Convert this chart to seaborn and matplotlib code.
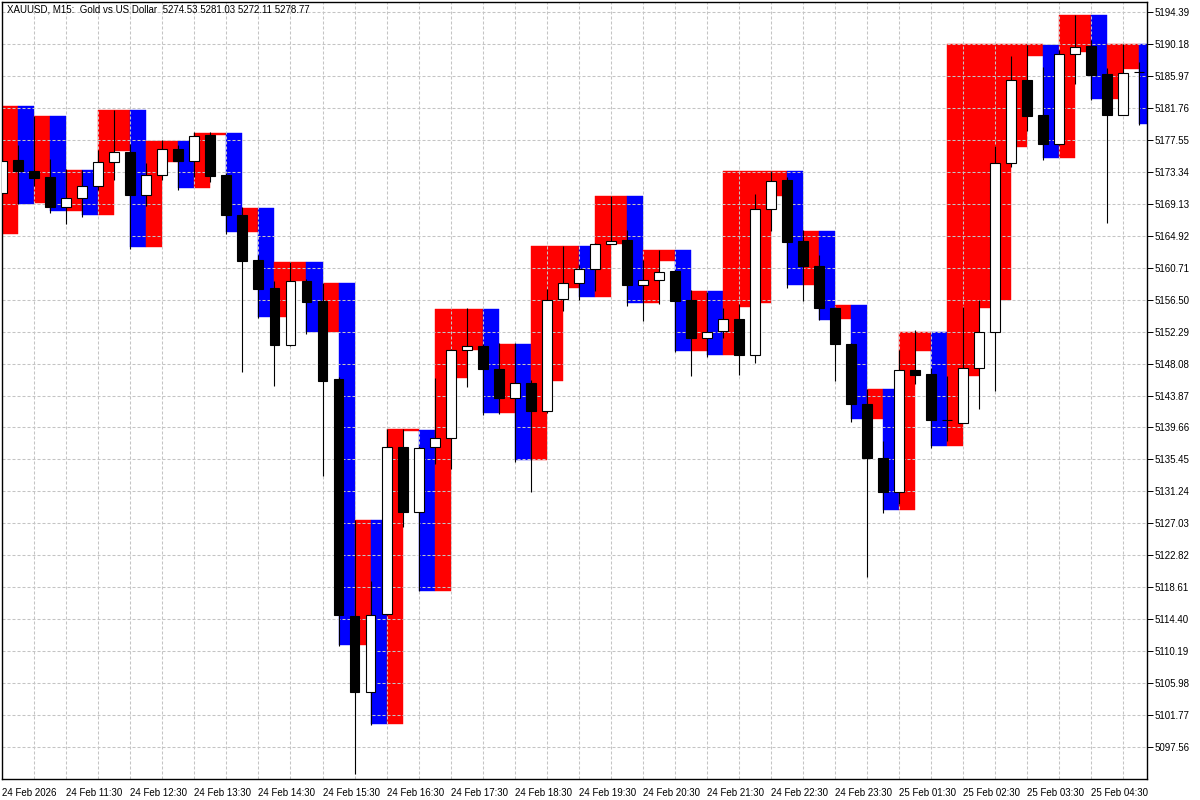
#!/usr/bin/env python3
"""
XAUUSD M15 candles over red/blue range boxes, drawn the way the MT5 terminal shows them.

Output:
    out.png
"""

import matplotlib
matplotlib.use("Agg")
import matplotlib.pyplot as plt
import numpy as np
import pandas as pd
import seaborn as sns

TITLE = "XAUUSD, M15:  Gold vs US Dollar  5274.53 5281.03 5272.11 5278.77"

# candle values, one entry per M15 bar
OPEN = [
    5170.57, 5174.83, 5173.47, 5172.59, 5168.73, 5169.92, 5171.50, 5174.65,
    5175.97, 5170.31, 5172.94, 5176.36, 5174.73, 5178.11, 5172.85, 5167.65,
    5161.67, 5157.99, 5150.57, 5158.99, 5156.27, 5146.00, 5114.91, 5104.85,
    5115.16, 5137.09, 5128.53, 5137.12, 5138.33, 5149.91, 5150.39, 5147.41,
    5143.60, 5145.57, 5141.83, 5156.63, 5158.74, 5160.57, 5163.86, 5164.30,
    5158.47, 5159.13, 5160.21, 5156.40, 5151.49, 5152.32, 5153.99, 5149.25,
    5168.47, 5172.19, 5164.17, 5160.97, 5155.35, 5150.70, 5142.81, 5135.71,
    5131.17, 5147.28, 5146.66, 5140.70, 5140.25, 5147.49, 5152.23, 5174.52,
    5185.44, 5180.75, 5177.02, 5188.87, 5189.83, 5186.14, 5180.84, 5186.45,
]
HIGH = [
    5175.00, 5176.89, 5180.62, 5175.05, 5173.73, 5173.51, 5176.14, 5181.50,
    5177.02, 5174.52, 5177.46, 5176.89, 5178.55, 5178.55, 5173.11, 5168.64,
    5162.35, 5158.99, 5161.47, 5159.24, 5158.74, 5146.30, 5127.54, 5119.51,
    5139.43, 5139.43, 5137.20, 5146.23, 5150.00, 5155.44, 5150.60, 5150.83,
    5150.83, 5145.87, 5157.94, 5163.51, 5161.00, 5164.00, 5170.19, 5165.61,
    5161.66, 5162.98, 5160.40, 5157.72, 5157.50, 5155.39, 5155.97, 5170.35,
    5173.38, 5172.60, 5165.61, 5162.35, 5155.50, 5150.80, 5144.78, 5137.85,
    5149.82, 5152.45, 5147.50, 5146.49, 5155.52, 5156.41, 5176.71, 5188.51,
    5190.05, 5187.12, 5189.40, 5194.00, 5190.71, 5186.97, 5190.18, 5187.76,
]
LOW = [
    5170.30, 5169.13, 5171.44, 5167.94, 5166.40, 5167.36, 5170.88, 5172.19,
    5163.20, 5168.81, 5172.19, 5170.88, 5172.63, 5171.97, 5165.18, 5146.95,
    5154.03, 5145.12, 5150.45, 5151.95, 5133.24, 5110.95, 5094.10, 5100.55,
    5115.00, 5126.54, 5118.13, 5134.91, 5134.25, 5144.99, 5141.36, 5141.49,
    5135.12, 5131.17, 5141.60, 5154.99, 5156.49, 5157.62, 5163.80, 5155.65,
    5153.68, 5155.87, 5149.60, 5146.40, 5148.94, 5151.44, 5146.53, 5148.15,
    5165.48, 5158.02, 5156.31, 5153.86, 5145.78, 5140.39, 5120.01, 5128.41,
    5129.65, 5145.44, 5137.02, 5137.85, 5140.20, 5142.06, 5144.46, 5173.94,
    5178.68, 5174.92, 5176.90, 5184.92, 5182.72, 5166.63, 5180.80, 5179.52,
]
CLOSE = [
    5174.73, 5173.42, 5172.50, 5168.68, 5169.92, 5171.50, 5174.65, 5175.97,
    5170.31, 5172.94, 5176.36, 5174.73, 5178.02, 5172.76, 5167.59, 5161.56,
    5157.90, 5150.57, 5158.99, 5156.16, 5145.77, 5115.01, 5104.85, 5115.01,
    5137.09, 5128.53, 5136.99, 5138.33, 5149.91, 5150.39, 5147.41, 5143.60,
    5145.57, 5141.83, 5156.49, 5158.74, 5160.57, 5163.86, 5164.26, 5158.47,
    5159.13, 5160.12, 5156.31, 5151.44, 5152.23, 5153.99, 5149.25, 5168.47,
    5172.10, 5164.07, 5160.92, 5155.39, 5150.70, 5142.72, 5135.65, 5131.17,
    5147.28, 5146.62, 5140.70, 5140.70, 5147.49, 5152.23, 5174.52, 5185.44,
    5180.65, 5177.02, 5188.87, 5189.74, 5186.10, 5180.84, 5186.37, 5186.40,
]

# indicator boxes: each one runs from its bar to the next bar
BOX_TOP = [
    5181.93, 5181.93, 5180.62, 5180.62, 5173.51, 5173.51, 5181.40, 5181.40,
    5181.40, 5177.33, 5177.33, 5177.33, 5178.47, 5178.47, 5178.47, 5168.51,
    5168.51, 5161.47, 5161.47, 5161.47, 5158.74, 5158.74, 5127.54, 5127.54,
    5139.43, 5139.43, 5139.30, 5155.31, 5155.31, 5155.31, 5155.31, 5150.70,
    5150.70, 5163.51, 5163.51, 5163.51, 5163.51, 5170.13, 5170.13, 5170.13,
    5162.98, 5162.98, 5162.98, 5157.59, 5157.59, 5173.38, 5173.38, 5173.38,
    5173.38, 5173.38, 5165.48, 5165.48, 5155.74, 5155.74, 5144.69, 5144.69,
    5152.23, 5152.23, 5152.23, 5190.18, 5190.18, 5190.18, 5190.18, 5190.18,
    5190.18, 5190.05, 5193.99, 5193.99, 5193.99, 5190.18, 5190.18, 5190.18,
]
BOX_BOTTOM = [
    5165.18, 5169.13, 5169.20, 5168.15, 5168.15, 5167.63, 5167.63, 5176.01,
    5163.41, 5163.41, 5174.60, 5171.18, 5171.18, 5178.10, 5165.39, 5165.43,
    5154.14, 5154.14, 5158.99, 5152.25, 5152.25, 5111.09, 5111.09, 5100.64,
    5100.64, 5139.15, 5118.13, 5118.13, 5146.18, 5149.90, 5141.57, 5141.57,
    5135.44, 5135.44, 5145.74, 5158.02, 5156.83, 5156.83, 5163.86, 5156.05,
    5156.05, 5161.57, 5149.69, 5149.69, 5149.16, 5149.16, 5155.52, 5156.05,
    5170.13, 5158.37, 5158.37, 5153.86, 5153.90, 5140.78, 5140.78, 5128.76,
    5128.76, 5149.69, 5137.23, 5137.23, 5146.44, 5155.39, 5156.41, 5176.57,
    5188.51, 5175.13, 5175.13, 5189.15, 5182.94, 5182.94, 5186.89, 5179.56,
]
BOX_SIDE = [
    "r", "b", "r", "b", "r", "b", "r", "r", "b", "r", "r", "b",
    "r", "r", "b", "r", "b", "r", "r", "b", "r", "b", "r", "b",
    "r", "r", "b", "r", "r", "r", "b", "r", "b", "r", "r", "r",
    "b", "r", "r", "b", "r", "r", "b", "r", "b", "r", "r", "r",
    "r", "b", "r", "b", "r", "b", "r", "b", "r", "r", "b", "r",
    "r", "r", "r", "r", "r", "b", "r", "r", "b", "r", "r", "b",
]

PRICE_TICKS = [
    5194.39, 5190.18, 5185.97, 5181.76, 5177.55, 5173.34, 5169.13, 5164.92,
    5160.71, 5156.50, 5152.29, 5148.08, 5143.87, 5139.66, 5135.45, 5131.24,
    5127.03, 5122.82, 5118.61, 5114.40, 5110.19, 5105.98, 5101.77, 5097.56,
]

TIME_TICK_BARS = [0, 4, 8, 12, 16, 20, 24, 28, 32, 36, 40, 44, 48, 52, 56, 60, 64, 68]
TIME_LABELS = [
    "24 Feb 2026", "24 Feb 11:30", "24 Feb 12:30", "24 Feb 13:30", "24 Feb 14:30",
    "24 Feb 15:30", "24 Feb 16:30", "24 Feb 17:30", "24 Feb 18:30", "24 Feb 19:30",
    "24 Feb 20:30", "24 Feb 21:30", "24 Feb 22:30", "24 Feb 23:30", "25 Feb 01:30",
    "25 Feb 02:30", "25 Feb 03:30", "25 Feb 04:30",
]

SIDE_COLORS = {"r": "#FF0000", "b": "#0000FF"}
GRID_COLOR = "#C4C4C4"
GRID_DASH = (0, (2.9, 1.9))
FONT_SIZE = 7


def build_frame():
    df = pd.DataFrame({
        "open": OPEN, "high": HIGH, "low": LOW, "close": CLOSE,
        "box_top": BOX_TOP, "box_bottom": BOX_BOTTOM, "box_side": BOX_SIDE,
    })
    df["bar"] = np.arange(len(df))
    df["up"] = df["close"] >= df["open"]
    return df


def draw_chart(df):
    sns.set_theme(style="white")
    plt.rcParams["font.family"] = ["Liberation Sans", "DejaVu Sans"]

    fig = plt.figure(figsize=(12, 8), dpi=100)
    # plot area in pixels: x 2.3..1146.7, y 2..779.3 (from top)
    ax = fig.add_axes([2.3 / 1200, 20.7 / 800, 1144.4 / 1200, 777.3 / 800])

    # range boxes behind everything
    box_colors = [SIDE_COLORS[s] for s in df["box_side"]]
    ax.bar(df["bar"], df["box_top"] - df["box_bottom"], bottom=df["box_bottom"],
           width=1.0, align="edge", color=box_colors, edgecolor=box_colors,
           linewidth=0.3, zorder=0.3)

    # wicks and bodies
    ax.vlines(df["bar"], df["low"], df["high"], color="black", linewidth=0.8, zorder=2)
    body_low = df[["open", "close"]].min(axis=1)
    body_h = (df["close"] - df["open"]).abs()
    ax.bar(df["bar"], body_h, bottom=body_low, width=0.62,
           color=np.where(df["up"], "white", "black"), edgecolor="black",
           linewidth=0.8, zorder=3)

    ax.set_xlim(0, 71.48)
    ax.set_ylim(5093.35, 5195.67)

    # price scale on the right
    ax.yaxis.tick_right()
    ax.set_yticks(PRICE_TICKS)
    ax.set_yticklabels([f"{p:.2f}" for p in PRICE_TICKS])
    ax.tick_params(axis="y", direction="out", length=4, width=0.7, pad=1.5,
                   labelsize=FONT_SIZE, colors="black")

    # time scale: labelled every hour, grid every half hour
    ax.set_xticks(TIME_TICK_BARS)
    ax.set_xticklabels(TIME_LABELS, ha="left")
    ax.set_xticks(np.arange(2, 72, 4), minor=True)
    ax.tick_params(axis="x", which="major", direction="out", length=3.5, width=0.7,
                   pad=2.5, labelsize=FONT_SIZE, colors="black")
    ax.tick_params(axis="x", which="minor", length=0)

    ax.set_axisbelow(True)
    ax.grid(True, which="both", axis="x", color=GRID_COLOR, linestyle=GRID_DASH, linewidth=0.75)
    ax.grid(True, which="major", axis="y", color=GRID_COLOR, linestyle=GRID_DASH, linewidth=0.75)

    for spine in ax.spines.values():
        spine.set_visible(True)
        spine.set_color("black")
        spine.set_linewidth(1.0)

    fig.text(7 / 1200, 1 - 9.5 / 800, TITLE, ha="left", va="center",
             fontsize=FONT_SIZE, color="black")

    fig.savefig("out.png", dpi=100, facecolor="white")
    plt.close(fig)


def main():
    df = build_frame()
    draw_chart(df)


if __name__ == "__main__":
    main()
